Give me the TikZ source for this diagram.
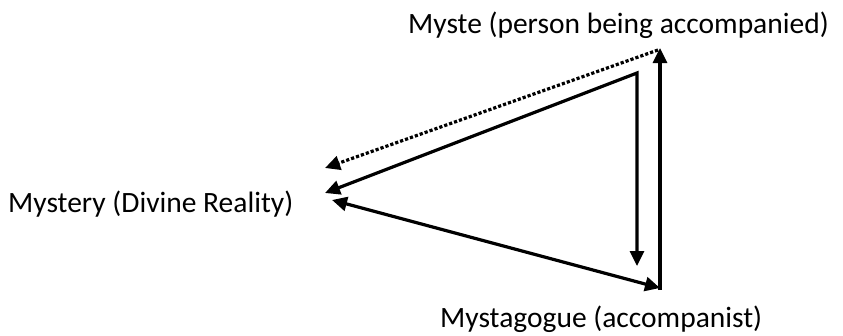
\documentclass[tikz,border=0pt]{standalone}
\usepackage{fontspec}
\setmainfont{Carlito}
\usetikzlibrary{arrows.meta}
\begin{document}
\begin{tikzpicture}[x=1pt,y=-1pt,
  lbl/.style={anchor=base west,inner sep=0pt,font=\fontsize{29.5}{35}\selectfont},
  arr/.style={line width=3.2pt,-{Triangle[length=15pt,width=14pt]}},
  darr/.style={line width=3.2pt,{Triangle[length=15pt,width=14pt]}-{Triangle[length=15pt,width=14pt]}},
  dotarr/.style={line width=3.2pt,dotted,-{Triangle[length=15pt,width=14pt]}}]
\useasboundingbox (0,0) rectangle (843,335);
\node[lbl] (myste) at (408,33) {Myste (person being accompanied)};
\node[lbl] (mystery) at (8,212) {Mystery (Divine Reality)};
\node[lbl] (mystagogue) at (440,327) {Mystagogue (accompanist)};
\coordinate (dotS) at (658,50);
\coordinate (dotE) at (325,168);
\coordinate (corner) at (637,73);
\coordinate (solE) at (325,193);
\coordinate (downE) at (637,266);
\coordinate (botL) at (332,200);
\coordinate (botR) at (660,288);
\coordinate (upS) at (660,290);
\coordinate (upE) at (660,48);
\draw[dotarr] (dotS) -- (dotE);
\draw[darr,line join=miter] (solE) -- (corner) -- (downE);
\draw[darr] (botL) -- (botR);
\draw[arr] (upS) -- (upE);
\end{tikzpicture}
\end{document}
